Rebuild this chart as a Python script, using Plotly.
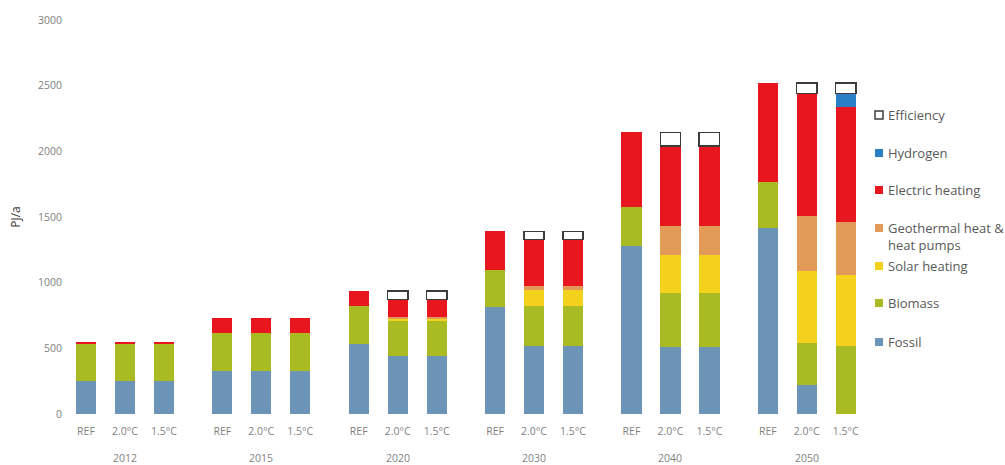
import plotly.graph_objects as go

# Heat supply by source, PJ/a, per year and scenario
years = ["2012", "2015", "2020", "2030", "2040", "2050"]
scenarios = ["REF", "2.0°C", "1.5°C"]

fossil     = [250, 250, 250,  330, 330, 330,  530, 440, 440,  818, 518, 518,  1278, 512, 512,  1413, 221, 0]
biomass    = [285, 285, 285,  285, 285, 285,  290, 270, 270,  279, 305, 305,  295, 411, 411,  355, 322, 518]
solar      = [0, 0, 0,        0, 0, 0,        0, 20, 20,      0, 122, 122,    0, 287, 287,    0, 547, 540]
geothermal = [0, 0, 0,        0, 0, 0,        0, 10, 10,      0, 30, 30,      0, 221, 221,    0, 419, 401]
electric   = [15, 15, 15,     115, 115, 115,  115, 130, 130,  293, 352, 352,  572, 609, 609,  753, 931, 880]
hydrogen   = [0, 0, 0,        0, 0, 0,        0, 0, 0,        0, 0, 0,        0, 0, 0,        0, 0, 101]
efficiency = [0, 0, 0,        0, 0, 0,        0, 65, 65,      0, 63, 63,      0, 105, 105,    0, 81, 81]

series = [
    ("Fossil", fossil, "#6b94b6"),
    ("Biomass", biomass, "#a9ba22"),
    ("Solar heating", solar, "#f4d11c"),
    ("Geothermal heat &<br>heat pumps", geothermal, "#e29a58"),
    ("Electric heating", electric, "#e8161f"),
    ("Hydrogen", hydrogen, "#2b7fc4"),
]

W, H = 1005, 465
ML, MR, MT, MB = 70, 139, 20, 51
GROUP_STEP = 3.5
AXIS_FONT = dict(family="Open Sans", size=10.5, color="#7f7f7f")

xpos = [g * GROUP_STEP + s for g in range(len(years)) for s in range(len(scenarios))]
ticktext = [sc for _ in years for sc in scenarios]


def nonzero(vals):
    # empty segments are left out so outlined boxes are not drawn flat
    return [v if v else None for v in vals]


fig = go.Figure()
for name, vals, color in series:
    fig.add_trace(go.Bar(
        x=xpos, y=nonzero(vals), name=name.replace("<br>", " "), width=0.52,
        marker=dict(color=color, line=dict(width=0)),
        showlegend=False,
    ))
fig.add_trace(go.Bar(
    x=xpos, y=nonzero(efficiency), name="Efficiency", width=0.52,
    marker=dict(color="white", line=dict(color="#3c3c3c", width=1.5)),
    showlegend=False,
))

# Year labels under each group
for g, yr in enumerate(years):
    fig.add_annotation(
        x=g * GROUP_STEP + 1, xref="x", y=-0.112, yref="paper",
        text=yr, showarrow=False, yanchor="middle",
        font=AXIS_FONT,
    )

# Legend drawn beside the plot
pw = W - ML - MR
ph = H - MT - MB


def px_x(px):
    return (px - ML) / pw


def px_y(py):
    return (H - MB - py) / ph


legend_items = [
    ("Efficiency", "white", 115, 115),
    ("Hydrogen", series[5][2], 153, 153),
    ("Electric heating", series[4][2], 190, 190),
    ("Geothermal heat &<br>heat pumps", series[3][2], 237, 228),
    ("Solar heating", series[2][2], 266, 266),
    ("Biomass", series[1][2], 303, 303),
    ("Fossil", series[0][2], 342, 342),
]
for label, color, cy, sq_y in legend_items:
    is_eff = label == "Efficiency"
    fig.add_shape(
        type="rect", xref="paper", yref="paper",
        x0=px_x(875), x1=px_x(883), y0=px_y(sq_y + 4), y1=px_y(sq_y - 4),
        fillcolor=color,
        line=dict(color="#3c3c3c" if is_eff else color, width=1.5 if is_eff else 0),
    )
    fig.add_annotation(
        x=px_x(886), xref="paper", y=px_y(cy), yref="paper",
        text=label, showarrow=False, xanchor="left", yanchor="middle", align="left",
        font=dict(family="Open Sans", size=13, color="#595959"),
    )

fig.update_layout(
    width=W, height=H,
    margin=dict(l=ML, r=MR, t=MT, b=MB),
    barmode="stack",
    plot_bgcolor="white", paper_bgcolor="white",
    font=dict(family="Open Sans", color="#7f7f7f"),
    xaxis=dict(
        range=[-0.41, 5 * GROUP_STEP + 2 + 0.52],
        tickmode="array", tickvals=xpos, ticktext=ticktext,
        tickfont=AXIS_FONT,
        showgrid=False, zeroline=False, showline=False,
        ticks="outside", ticklen=7, tickcolor="rgba(0,0,0,0)",
    ),
    yaxis=dict(
        range=[0, 3000], tickvals=[0, 500, 1000, 1500, 2000, 2500, 3000],
        tickfont=AXIS_FONT,
        showgrid=False, zeroline=False, showline=False,
        ticks="outside", ticklen=5, tickcolor="rgba(0,0,0,0)",
        title=dict(text="PJ/a", font=dict(family="Open Sans", size=12, color="#404040"), standoff=14),
    ),
)

fig.write_html("out.html")
